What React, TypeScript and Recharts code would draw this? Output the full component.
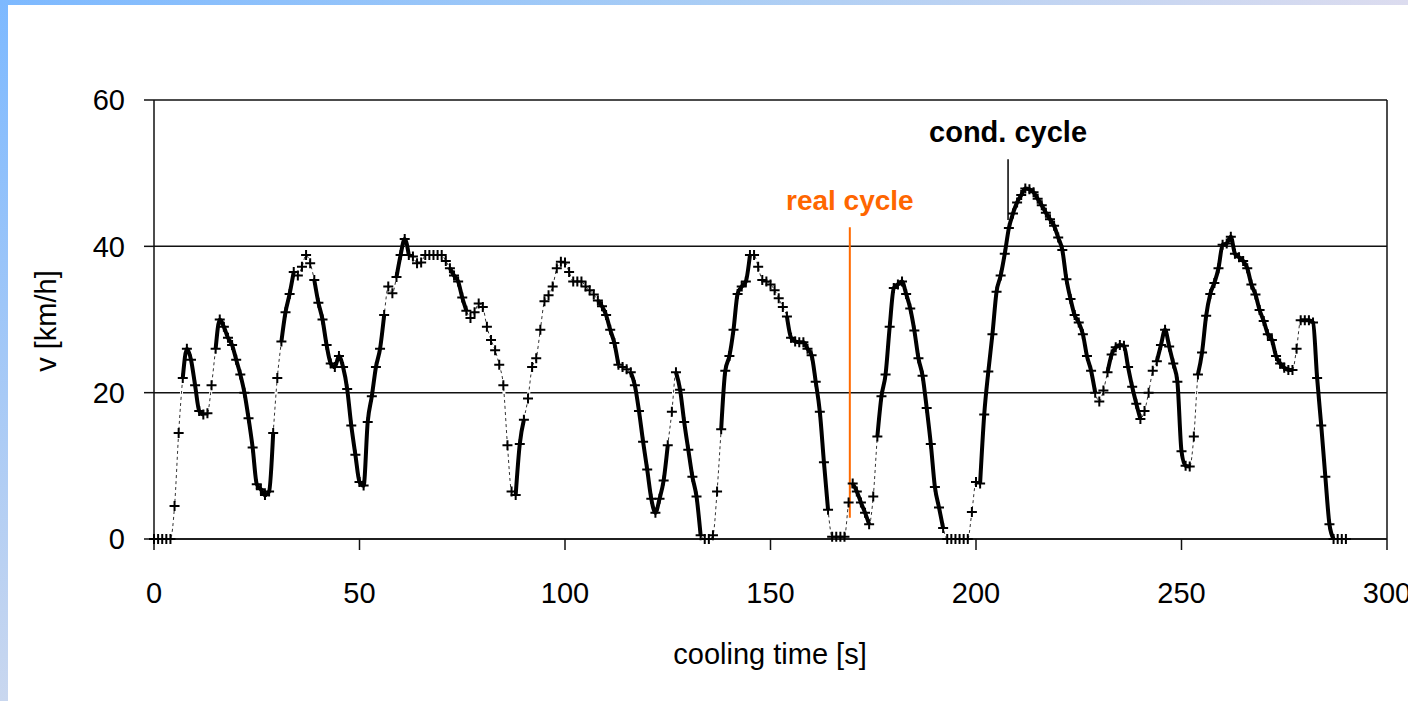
import { CartesianGrid, Line, LineChart, ReferenceLine, XAxis, YAxis } from "recharts";

const FONT = "'Liberation Sans', Arial, sans-serif";

// speed [km/h] sampled once per second, t = 0 .. 290 s
const speed: number[] = [
  0, 0, 0, 0, 0, 4.5, 14.5, 22, 26, 24.5,
  21, 17.5, 17, 17.2, 21, 26, 30, 29, 27.5, 26.5,
  24.5, 22.5, 20, 16.5, 12.5, 7.5, 6.8, 6, 6.5, 14.5,
  22, 27, 31, 33.5, 36.5, 36, 37.2, 38.8, 37.7, 35.4,
  32.3, 30, 26.5, 24, 23.5, 25, 23.5, 20.5, 15.5, 11.5,
  7.8, 7.3, 16, 19.5, 23.5, 26, 30.6, 34.5, 33.6, 35.8,
  38.8, 41, 38.8, 38.6, 37.7, 37.8, 38.8, 38.8, 38.8, 38.8,
  38.8, 38, 37, 36, 35.2, 33, 31.2, 30.2, 31, 32.2,
  31.7, 29, 27.2, 25.8, 23.8, 21, 12.8, 6.5, 6, 13,
  16.3, 19.2, 23.5, 24.7, 28.6, 32.5, 33.3, 34.5, 37, 37.9,
  37.8, 36.5, 35.2, 35.2, 35.2, 34.5, 34, 33.4, 32.6, 31.8,
  30.6, 28.6, 26.8, 23.8, 23.5, 23.2, 22.8, 21, 17.5, 13.3,
  9.5, 5.5, 3.6, 5.5, 8, 12.8, 17.4, 22.8, 20.4, 16,
  12.2, 8.5, 5.8, 0.5, 0, 0, 0.5, 6.5, 15, 23,
  25, 28.6, 33.5, 34.5, 35.2, 38.8, 38.8, 37.2, 35.4, 35.2,
  34.8, 34, 32.9, 31.7, 30.4, 27.5, 27, 26.9, 26.9, 26,
  25.1, 21.5, 17.4, 10.5, 4, 0.3, 0.3, 0.3, 0.3, 5,
  7.6, 6.5, 5, 3.6, 2, 5.8, 14, 19.5, 22.5, 29,
  34.3, 34.8, 35.2, 33.5, 31.5, 28.5, 24.7, 22.3, 17.9, 13,
  7.1, 4.3, 1.5, 0, 0, 0, 0, 0, 0, 3.7,
  7.8, 7.6, 17, 22.9, 28, 33.8, 36, 39, 42.5, 44.5,
  46, 47, 47.9, 47.8, 47.4, 46.5, 45.6, 44.6, 43.7, 42.8,
  41.2, 39.5, 35.5, 32.8, 30.6, 29.6, 28, 25, 23, 20,
  18.8, 20.3, 22.8, 25.2, 26.2, 26.5, 26.4, 23.5, 20.8, 18.5,
  16.4, 17.5, 20, 23, 24.3, 26.5, 28.6, 26.3, 24, 21.5,
  12, 10, 9.9, 14, 22.5, 25.5, 30.5, 33.5, 35, 37,
  40.2, 40.4, 41.3, 39, 38.5, 38, 37, 34.8, 33.4, 31.3,
  29.8, 28, 27.2, 25, 24, 23.4, 23.1, 23.1, 26, 29.9,
  29.9, 29.9, 29.6, 22, 15.5, 8.5, 2, 0, 0, 0,
  0,
];

// time spans [s] where the heavy trace is drawn
const heavySpans: [number, number][] = [
  [7, 12], [15, 23], [24, 29], [31, 34], [39, 52], [53, 56], [59, 62],
  [72, 76], [88, 90], [108, 113], [116, 125], [127, 133], [138, 145],
  [154, 164], [170, 174], [176, 192], [201, 229], [232, 240], [244, 252],
  [254, 277], [279, 287],
];

const xTicks = [0, 50, 100, 150, 200, 250, 300];
const yTicks = [0, 20, 40, 60];

const rows = speed.map((v, i) => ({
  t: i,
  cond: v,
  real: heavySpans.some(([a, b]) => i >= a && i <= b) ? v : null,
}));

const PlusDot = (props: any) => {
  const { cx, cy, index } = props;
  if (cx == null || cy == null) return <g key={`n${index}`} />;
  return (
    <path
      key={`p${index}`}
      d={`M${cx - 5},${cy}H${cx + 5}M${cx},${cy - 5}V${cy + 5}`}
      stroke="#000"
      strokeWidth={2}
      fill="none"
    />
  );
};

export default function App() {
  return (
    <div
      style={{
        position: "absolute",
        left: 0,
        top: 0,
        width: 1408,
        height: 701,
        background: "#fff",
        overflow: "hidden",
        fontFamily: FONT,
      }}
    >
      <div
        style={{
          position: "absolute",
          left: 0,
          top: 0,
          width: 8,
          height: 701,
          background: "linear-gradient(to bottom, #7db9ff, #c9d7ef)",
        }}
      />
      <div
        style={{
          position: "absolute",
          left: 0,
          top: 0,
          width: 1408,
          height: 5,
          background: "linear-gradient(to right, #7db9ff, #a9cdf5 50%, #dcdcef)",
        }}
      />

      <LineChart
        width={1408}
        height={701}
        data={rows}
        margin={{ top: 100, right: 21, bottom: 0, left: 0 }}
        style={{ position: "absolute", left: 0, top: 0 }}
      >
        <CartesianGrid vertical={false} stroke="#111" strokeWidth={1.5} />
        <XAxis
          dataKey="t"
          type="number"
          domain={[0, 300]}
          ticks={xTicks}
          height={162}
          tickSize={11}
          tickMargin={32}
          axisLine={{ stroke: "#111", strokeWidth: 1.5 }}
          tickLine={{ stroke: "#111", strokeWidth: 1.5 }}
          tick={{ fill: "#000", fontSize: 29, fontFamily: FONT }}
          interval={0}
        />
        <YAxis
          domain={[0, 60]}
          ticks={yTicks}
          width={154}
          tickSize={10}
          tickMargin={19}
          axisLine={{ stroke: "#111", strokeWidth: 1.5 }}
          tickLine={{ stroke: "#111", strokeWidth: 1.5 }}
          tick={{ fill: "#000", fontSize: 29, fontFamily: FONT }}
          interval={0}
        />
        <ReferenceLine x={300} stroke="#111" strokeWidth={1.5} />

        <Line
          type="monotone"
          dataKey="cond"
          stroke="#fff"
          strokeWidth={3}
          dot={false}
          activeDot={false}
          isAnimationActive={false}
        />
        <Line
          type="monotone"
          dataKey="cond"
          stroke="#333"
          strokeWidth={1}
          strokeDasharray="3 3"
          dot={false}
          activeDot={false}
          isAnimationActive={false}
        />
        <Line
          type="monotone"
          dataKey="real"
          stroke="#000"
          strokeWidth={4}
          dot={false}
          activeDot={false}
          connectNulls={false}
          isAnimationActive={false}
        />
        <Line
          type="monotone"
          dataKey="cond"
          stroke="none"
          dot={PlusDot}
          activeDot={false}
          isAnimationActive={false}
        />

        <ReferenceLine
          segment={[
            { x: 207.8, y: 43.6 },
            { x: 207.8, y: 51.9 },
          ]}
          stroke="#000"
          strokeWidth={1.5}
          label={{
            value: "cond. cycle",
            position: "top",
            offset: 17,
            fill: "#000",
            fontSize: 29,
            fontWeight: 700,
            fontFamily: FONT,
          }}
        />
        <ReferenceLine
          segment={[
            { x: 169.3, y: 2.9 },
            { x: 169.3, y: 42.6 },
          ]}
          stroke="#ff6a00"
          strokeWidth={2}
          label={{
            value: "real cycle",
            position: "top",
            offset: 17,
            fill: "#ff6600",
            fontSize: 28,
            fontWeight: 700,
            fontFamily: FONT,
          }}
        />
      </LineChart>

      <div
        style={{
          position: "absolute",
          left: 770,
          top: 640,
          transform: "translateX(-50%)",
          fontSize: 29,
          lineHeight: "29px",
          whiteSpace: "nowrap",
          color: "#000",
        }}
      >
        cooling time [s]
      </div>
      <div
        style={{
          position: "absolute",
          left: 46,
          top: 321,
          transform: "translate(-50%, -50%) rotate(-90deg)",
          fontSize: 29,
          lineHeight: "29px",
          whiteSpace: "nowrap",
          color: "#000",
        }}
      >
        v [km/h]
      </div>
    </div>
  );
}
